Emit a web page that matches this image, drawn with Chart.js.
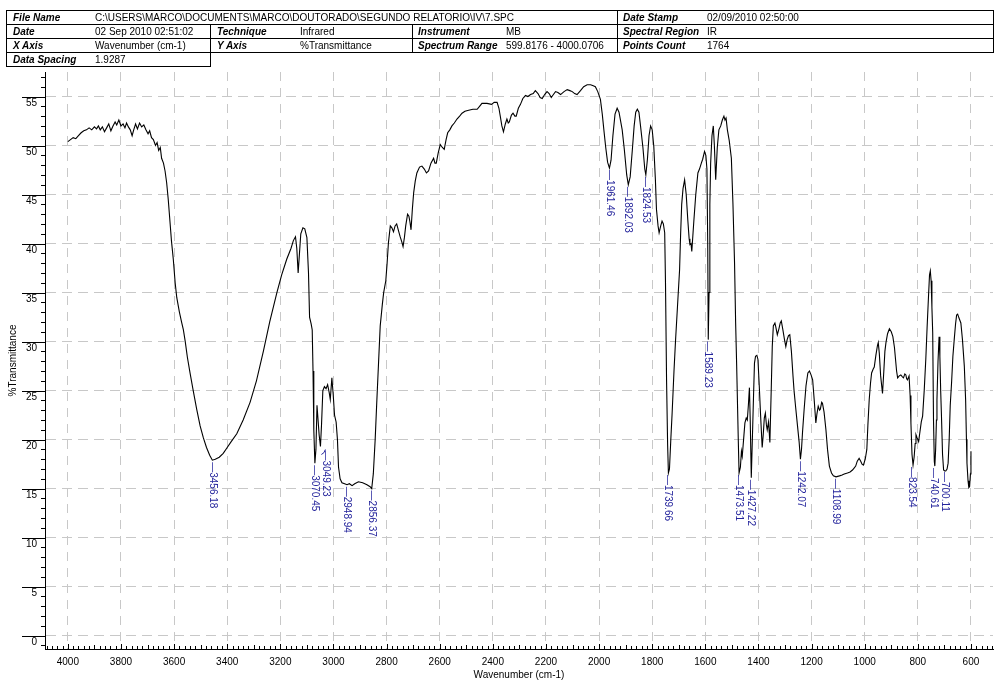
<!DOCTYPE html>
<html>
<head>
<meta charset="utf-8">
<script src="https://cdn.jsdelivr.net/npm/chart.js@4/dist/chart.umd.min.js"></script>
<style>
  html, body { margin: 0; padding: 0; background: #fff; }
  #wrap { position: relative; width: 996px; height: 686px; }
  canvas { position: absolute; left: 0; top: 0; }
  .hl { position: absolute; height: 1px; background: #000; }
  .vl { position: absolute; width: 1px; background: #000; }
  .t { position: absolute; font-family: "Liberation Sans", Arial, sans-serif; font-size: 10px; line-height: 14px; height: 14px; white-space: nowrap; color: #000; }
  .b { font-weight: bold; font-style: italic; }
</style>
</head>
<body>
<div id="wrap">
  <canvas id="c" width="996" height="686"></canvas>
  <div id="hdr"></div>
</div>
<script>
// ---------------- data ----------------
const wavenumbers = [
4000,3990,3980,3970,3960,3950,3940,3930,3920,3910,3900,3892,3885,3878,3870,3862,3854,3846,3838,3830,
3822,3816,3808,3800,3792,3785,3779,3772,3765,3758,3752,3745,3738,3730,3722,3714,3706,3698,3692,3685,
3678,3670,3664,3658,3652,3647,3640,3634,3628,3622,3616,3610,3603,3596,3590,3580,3572,3565,3558,3550,
3540,3528,3515,3502,3490,3478,3466,3456,3445,3430,3415,3400,3385,3364,3340,3314,3290,3264,3240,3213,
3195,3176,3160,3151,3143,3138,3133,3128,3123,3115,3108,3100,3094,3090,3084,3080,3077,3074,3070,3066,
3062,3058,3054,3049,3045,3040,3034,3028,3022,3016,3012,3006,3001,2996,2990,2985,2981,2975,2968,2958,
2949,2940,2930,2920,2906,2890,2874,2862,2856,2850,2843,2837,2830,2824,2816,2811,2803,2798,2793,2786,
2780,2774,2768,2762,2755,2749,2743,2738,2733,2728,2721,2716,2712,2708,2703,2698,2692,2686,2676,2667,
2658,2650,2642,2633,2623,2618,2613,2606,2598,2590,2583,2576,2570,2562,2554,2545,2535,2525,2516,2505,
2491,2475,2459,2450,2441,2430,2422,2405,2395,2384,2377,2372,2366,2360,2353,2347,2342,2338,2330,2324,
2317,2312,2304,2296,2287,2277,2268,2258,2248,2240,2230,2222,2214,2205,2196,2188,2180,2172,2164,2155,
2145,2132,2120,2110,2101,2092,2083,2070,2058,2045,2032,2022,2014,2005,1995,1988,1982,1975,1968,1961,
1955,1948,1940,1932,1925,1913,1905,1896,1890,1883,1875,1868,1862,1856,1850,1844,1835,1828,1824,1818,
1812,1806,1800,1794,1788,1784,1778,1774,1768,1763,1758,1753,1750,1746,1742,1739,1735,1730,1725,1718,
1712,1705,1697,1693,1689,1684,1678,1672,1666,1661,1658,1654,1651,1647,1643,1636,1628,1622,1615,1610,
1603,1598,1594,1591,1589,1586,1583,1580,1575,1570,1566,1561,1555,1549,1542,1536,1530,1526,1522,1517,
1510,1502,1496,1490,1486,1482,1476,1473,1468,1464,1461,1456,1451,1446,1442,1438,1434,1431,1427,1423,
1418,1415,1411,1406,1402,1397,1392,1386,1382,1378,1374,1370,1367,1362,1357,1352,1348,1344,1338,1334,
1329,1323,1318,1314,1308,1302,1297,1292,1287,1282,1276,1270,1266,1260,1253,1247,1242,1238,1234,1228,
1221,1214,1208,1202,1196,1190,1184,1180,1175,1170,1167,1162,1159,1153,1146,1140,1133,1125,1118,1108,
1095,1085,1077,1065,1055,1046,1040,1034,1028,1021,1015,1010,1005,998,992,988,983,978,974,968,
964,958,952,949,945,940,933,928,924,920,914,907,900,894,888,884,880,876,870,864,
858,854,849,845,842,839,836,833,829,826,822,818,814,810,807,803,797,792,787,782,
776,770,765,760,756,753,750,747,744,741,738,736,733,730,728,724,720,717,714,711,
707,703,699,695,690,686,682,678,673,668,663,658,654,650,645,638,632,625,620,617,
615,611,608,605,602,600
];
const transmittance = [
50.4,50.6,50.8,50.7,51.0,51.3,51.5,51.6,51.8,51.6,51.9,51.7,52.0,51.6,51.9,51.4,51.8,52.2,51.5,52.0,
52.4,52.1,52.6,52.0,52.2,51.8,52.3,51.9,51.6,51.0,51.6,52.2,51.7,52.3,51.9,52.1,51.6,51.2,51.5,50.8,
50.6,50.0,50.3,49.5,49.8,48.7,48.2,47.4,46.2,44.5,42.4,40.3,38.4,36.0,34.5,33.0,32.0,31.2,30.0,28.4,
26.8,25.0,23.1,21.4,20.2,19.2,18.4,17.9,18.0,18.2,18.6,19.2,19.8,20.6,22.0,23.8,26.0,29.0,32.0,35.0,
36.8,38.4,39.5,40.3,40.7,39.5,37.0,39.0,41.0,41.6,41.5,40.6,37.0,32.5,31.8,31.2,27.0,21.0,17.6,19.0,
23.5,22.0,20.5,19.3,21.5,25.0,25.4,25.2,25.6,24.8,24.1,26.3,24.6,22.5,21.8,20.0,17.2,16.0,15.6,15.5,
15.4,15.5,15.3,15.5,15.7,15.6,15.4,15.2,15.0,16.5,20.0,23.8,28.0,31.6,33.8,35.0,36.2,38.0,40.1,41.8,
41.6,41.2,41.8,42.0,41.3,40.7,40.2,39.7,40.6,41.8,43.0,42.8,42.2,41.4,43.5,45.2,46.4,47.2,47.8,47.9,
47.6,47.2,47.4,48.2,48.7,48.2,48.2,49.2,50.1,49.8,49.6,50.6,51.3,51.6,52.0,52.3,52.7,53.0,53.3,53.5,
53.6,53.7,53.7,54.0,54.3,54.3,54.3,54.2,54.4,54.4,53.8,53.0,52.0,51.4,52.2,52.7,52.3,52.4,53.1,53.3,
53.0,53.0,53.8,54.2,54.8,55.1,55.0,55.2,55.3,55.6,55.3,54.9,54.8,55.2,55.5,55.3,54.9,55.2,55.5,55.4,
55.2,55.5,55.7,55.6,55.5,55.3,55.2,55.6,56.0,56.2,56.2,56.1,56.0,55.5,54.7,53.2,51.6,49.8,48.3,47.7,
48.5,51.0,53.2,53.8,53.4,51.6,49.6,47.0,46.0,46.8,49.5,52.0,53.4,53.7,53.4,52.0,49.8,47.6,47.0,48.6,
51.0,52.0,51.6,49.9,46.5,43.5,41.8,41.1,41.8,42.3,42.0,41.1,36.0,26.1,19.5,16.6,17.0,20.0,22.7,27.0,
30.2,33.5,37.3,41.0,44.0,45.6,46.5,45.0,42.4,40.5,39.9,40.0,39.2,40.8,42.4,45.0,47.2,47.6,48.2,48.6,
49.4,49.0,47.6,40.0,30.2,35.0,44.0,48.2,51.0,52.0,50.0,46.5,49.8,51.6,52.0,52.6,53.0,52.6,52.8,51.6,
50.5,48.7,44.0,38.0,32.0,27.5,20.0,16.6,17.2,18.8,18.3,20.0,21.7,22.2,22.0,23.5,25.3,22.0,16.1,20.0,
25.0,27.8,28.5,28.6,28.2,25.5,22.5,19.2,20.5,22.2,22.7,21.5,21.0,21.8,19.7,25.0,29.5,31.6,31.9,31.4,
30.7,31.3,31.9,32.1,31.2,30.2,29.5,30.2,30.6,30.7,29.0,26.5,25.0,23.3,21.4,19.8,18.0,19.0,20.8,23.1,
25.5,26.8,27.0,26.6,26.1,24.0,21.7,22.6,23.4,23.0,23.1,23.8,23.7,22.8,21.0,19.0,17.3,16.6,16.3,16.2,
16.3,16.4,16.5,16.6,16.7,16.9,17.1,17.3,17.8,18.1,17.8,17.5,17.4,18.0,19.0,21.5,24.1,25.8,26.8,27.2,
27.4,28.6,29.6,29.9,28.8,26.5,24.7,27.0,29.0,29.9,30.8,31.3,31.0,30.5,29.4,28.2,27.0,26.3,26.5,26.6,
26.4,26.3,26.7,26.6,26.2,26.1,26.3,26.5,24.5,21.7,18.5,17.4,18.2,19.6,20.5,20.2,19.8,20.8,21.8,22.4,
25.0,28.2,31.5,34.5,36.8,37.2,36.2,33.5,30.9,22.0,17.8,17.3,19.0,22.0,24.1,28.0,30.5,28.5,25.0,22.4,
18.5,16.9,16.8,16.8,17.0,17.6,20.0,23.5,25.8,28.5,30.2,31.8,32.7,32.8,32.4,31.9,30.2,27.5,24.0,20.0,
17.6,15.8,15.1,15.2,16.5,18.8
];

// peak annotations
const peakLabels = ["3456.18","3070.45","3049.23","2948.94","2856.37","1961.46","1892.03","1824.53",
  "1739.66","1589.23","1473.51","1427.22","1242.07","1108.99","823.54","740.61","700.11"];
const peakPositions = [3456.18,3070.45,3049.23,2948.94,2856.37,1961.46,1892.03,1824.53,
  1739.66,1589.23,1473.51,1427.22,1242.07,1108.99,823.54,740.61,700.11];
const peakValues = [17.9,17.6,19.3,15.4,15.0,47.7,46.0,47.0,16.6,30.2,16.6,16.1,18.0,16.2,17.4,17.3,16.9];

// axis ticks
const xTickValues = [4000,3800,3600,3400,3200,3000,2800,2600,2400,2200,2000,1800,1600,1400,1200,1000,800,600];
const yTickValues = [0,5,10,15,20,25,30,35,40,45,50,55];

// header table text
const headerRow1 = [["File Name","C:\\USERS\\MARCO\\DOCUMENTS\\MARCO\\DOUTORADO\\SEGUNDO RELATORIO\\IV\\7.SPC"],["Date Stamp","02/09/2010 02:50:00"]];
const headerRow2 = [["Date","02 Sep 2010 02:51:02"],["Technique","Infrared"],["Instrument","MB"],["Spectral Region","IR"]];
const headerRow3 = [["X Axis","Wavenumber (cm-1)"],["Y Axis","%Transmittance"],["Spectrum Range","599.8176 - 4000.0706"],["Points Count","1764"]];
const headerRow4 = [["Data Spacing","1.9287"]];

// ---------------- header (HTML) ----------------
(function buildHeader() {
  const hdr = document.getElementById('hdr');
  const rowTop = [10, 24, 38, 52];
  const add = (cls, css, txt) => {
    const d = document.createElement('div');
    d.className = cls;
    Object.assign(d.style, css);
    if (txt !== undefined) d.textContent = txt;
    hdr.appendChild(d);
  };
  // horizontal lines
  add('hl', {left:'6px', top:'10px', width:'988px'});
  add('hl', {left:'6px', top:'24px', width:'988px'});
  add('hl', {left:'6px', top:'38px', width:'988px'});
  add('hl', {left:'6px', top:'52px', width:'988px'});
  add('hl', {left:'6px', top:'66px', width:'205px'});
  // vertical lines
  add('vl', {left:'6px', top:'10px', height:'57px'});
  add('vl', {left:'210px', top:'24px', height:'43px'});
  add('vl', {left:'412px', top:'24px', height:'29px'});
  add('vl', {left:'617px', top:'10px', height:'43px'});
  add('vl', {left:'993px', top:'10px', height:'43px'});
  const labelX = [13, 217, 418, 623];
  const valueX = [95, 300, 506, 707];
  const place = (row, r) => {
    row.forEach((cell, i) => {
      let ci = i;
      if (row === headerRow1 && i === 1) ci = 3;
      add('t b', {left: labelX[ci] + 'px', top: (rowTop[r] + 0.5) + 'px'}, cell[0]);
      add('t', {left: valueX[ci] + 'px', top: (rowTop[r] + 0.5) + 'px'}, cell[1]);
    });
  };
  place(headerRow1, 0);
  place(headerRow2, 1);
  place(headerRow3, 2);
  place(headerRow4, 3);
})();

// ---------------- chart ----------------
const FONT = '"Liberation Sans", Arial, sans-serif';
Chart.defaults.font.family = FONT;
Chart.defaults.font.size = 10;
Chart.defaults.color = '#000';

const decorPlugin = {
  id: 'decor',
  afterDatasetsDraw(chart) {
    const ctx = chart.ctx;
    const xs = chart.scales.x, ys = chart.scales.y;
    const area = chart.chartArea;
    ctx.save();
    ctx.strokeStyle = '#000';
    ctx.lineWidth = 1;
    // x-axis minor/major tick marks (pointing up)
    ctx.beginPath();
    for (let w = 520; w <= 4080; w += 20) {
      const px = Math.round(xs.getPixelForValue(w)) + 0.5;
      const len = (w % 200 === 0) ? 5 : (w % 100 === 0 ? 4 : 3);
      ctx.moveTo(px, area.bottom);
      ctx.lineTo(px, area.bottom - len);
    }
    ctx.stroke();
    // y-axis ticks (pointing left)
    ctx.beginPath();
    for (let v = -1; v <= 57; v += 1) {
      const py = Math.round(ys.getPixelForValue(v)) + 0.5;
      const x0 = (v % 5 === 0) ? 22 : 41;
      ctx.moveTo(x0, py);
      ctx.lineTo(area.left, py);
    }
    ctx.stroke();
    // peak labels
    ctx.fillStyle = '#24249c';
    ctx.strokeStyle = '#24249c';
    ctx.font = '10px ' + FONT;
    ctx.textAlign = 'left';
    ctx.textBaseline = 'middle';
    peakLabels.forEach((lab, i) => {
      const px = xs.getPixelForValue(peakPositions[i]);
      const py = ys.getPixelForValue(peakValues[i]);
      let dx = 0, dy = 2;
      if (lab === '3049.23') {
        dx = 5; dy = 4;
        ctx.beginPath();
        ctx.moveTo(px + 1, py + 8);
        ctx.quadraticCurveTo(px + 4, py + 7, px + 5, py + 3);
        ctx.stroke();
      }
      ctx.save();
      ctx.translate(px + dx, py + dy);
      ctx.rotate(Math.PI / 2);
      ctx.fillText('\u2014' + lab, 0, 0);
      ctx.restore();
    });
    ctx.restore();
  }
};

new Chart(document.getElementById('c'), {
  type: 'line',
  data: {
    datasets: [{
      data: wavenumbers.map((w, i) => ({x: w, y: transmittance[i]})),
      borderColor: '#000',
      borderWidth: 1.1,
      pointRadius: 0,
      tension: 0,
      fill: false
    }]
  },
  options: {
    responsive: false,
    devicePixelRatio: 1,
    animation: false,
    events: [],
    layout: { padding: { top: 72, right: 3, left: 0, bottom: 0 } },
    plugins: { legend: { display: false }, tooltip: { enabled: false } },
    scales: {
      x: {
        type: 'linear',
        reverse: true,
        min: 517,
        max: 4086,
        afterBuildTicks: (s) => { s.ticks = xTickValues.map(v => ({value: v})); },
        afterFit: (s) => { s.height = 37; },
        grid: { color: '#c8c8c8', lineWidth: 1, drawTicks: false },
        border: { display: true, color: '#000', width: 1, dash: [9, 7] },
        ticks: { autoSkip: false, maxRotation: 0, padding: 7, color: '#000', font: { size: 10 },
                 callback: (v) => String(v) },
        title: { display: true, text: 'Wavenumber (cm-1)', color: '#000', font: { size: 10 },
                 padding: { top: 0, bottom: 5 } }
      },
      y: {
        type: 'linear',
        min: -1.36,
        max: 57.5,
        afterBuildTicks: (s) => { s.ticks = yTickValues.map(v => ({value: v})); },
        afterFit: (s) => { s.width = 45; },
        grid: { color: '#c8c8c8', lineWidth: 1, drawTicks: false },
        border: { display: true, color: '#000', width: 1, dash: [10, 6] },
        ticks: { padding: 8, labelOffset: 7, color: '#000', font: { size: 10 },
                 callback: (v) => String(v) },
        title: { display: true, text: '%Transmittance', color: '#000', font: { size: 10 },
                 padding: { top: 7, bottom: 0 } }
      }
    }
  },
  plugins: [decorPlugin]
});
</script>
</body>
</html>
